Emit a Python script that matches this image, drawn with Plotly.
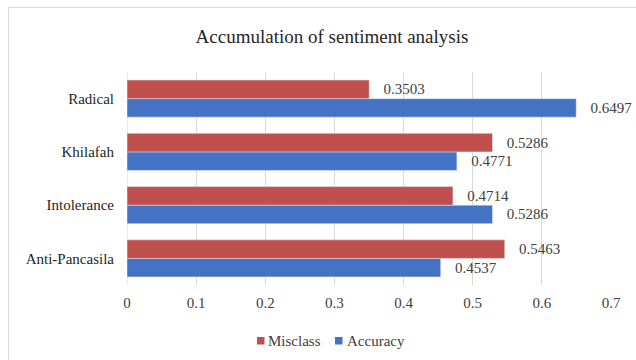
import plotly.graph_objects as go

categories = ["Anti-Pancasila", "Intolerance", "Khilafah", "Radical"]
accuracy = [0.4537, 0.5286, 0.4771, 0.6497]
misclass = [0.5463, 0.4714, 0.5286, 0.3503]
x_ticks = [0, 0.1, 0.2, 0.3, 0.4, 0.5, 0.6, 0.7]
x_tick_labels = ["0", "0.1", "0.2", "0.3", "0.4", "0.5", "0.6", "0.7"]
series_names = ["Misclass", "Accuracy"]
series_colors = ["#C0504D", "#4472C4"]

FONT = "'Liberation Serif', 'Times New Roman', 'DejaVu Serif', serif"
TXT = "#404040"
PAD = "\u00a0\u00a0\u00a0"

W, H = 636, 360
L, R, T, B = 127, 25, 72, 75
PW, PH = W - L - R, H - T - B


def px(fx):
    return (fx - L) / PW


def py(fy):
    return (H - B - fy) / PH


fig = go.Figure()
fig.add_trace(go.Bar(
    y=categories, x=accuracy, name="Accuracy", orientation="h",
    marker=dict(color=series_colors[1]),
    text=[f"{PAD}{v:.4f}" for v in accuracy], textposition="outside",
    textfont=dict(family=FONT, size=15, color=TXT),
    cliponaxis=False,
))
fig.add_trace(go.Bar(
    y=categories, x=misclass, name="Misclass", orientation="h",
    marker=dict(color=series_colors[0]),
    text=[f"{PAD}{v:.4f}" for v in misclass], textposition="outside",
    textfont=dict(family=FONT, size=15, color=TXT),
    cliponaxis=False,
))

fig.update_layout(
    width=W, height=H,
    margin=dict(l=L, r=R, t=T, b=B, autoexpand=False),
    paper_bgcolor="white", plot_bgcolor="white",
    barmode="group", bargap=0.305, bargroupgap=0,
    font=dict(family=FONT, color=TXT),
    title=dict(text="Accumulation of sentiment analysis", x=px(332), xref="paper",
               y=1 - 36 / H, yanchor="middle", xanchor="center",
               font=dict(family=FONT, size=19, color="#262626")),
    xaxis=dict(range=[0, 0.7], tickvals=x_ticks, ticktext=x_tick_labels,
               showgrid=True, gridcolor="#D9D9D9", gridwidth=1,
               zeroline=False, showline=False, ticks="", automargin=False,
               tickfont=dict(family=FONT, size=15, color=TXT),
               ticklabelstandoff=7),
    yaxis=dict(range=[-0.5, 3.5], showgrid=False, zeroline=False,
               showline=False, ticks="", automargin=False,
               tickfont=dict(family=FONT, size=15, color="#262626"),
               ticklabelstandoff=12),
    showlegend=False,
)

# axis line at zero
fig.add_shape(type="line", xref="x", yref="paper", x0=0, x1=0, y0=0, y1=1,
              line=dict(color="#D9D9D9", width=1), layer="below")
# chart border
fig.add_shape(type="rect", xref="paper", yref="paper",
              x0=px(8.5), x1=3.0, y0=-3.0, y1=py(7.5),
              line=dict(color="#D9D9D9", width=1), fillcolor="rgba(0,0,0,0)")

# legend (squares + text)
legend_sq_x = [257, 335]
legend_txt_x = [267, 346]
for name, color, sx, tx in zip(series_names, series_colors, legend_sq_x, legend_txt_x):
    fig.add_shape(type="rect", xref="paper", yref="paper",
                  x0=px(sx), x1=px(sx + 7.5), y0=py(344.5), y1=py(337),
                  line=dict(width=0), fillcolor=color)
    fig.add_annotation(text=name, xref="paper", yref="paper",
                       x=px(tx), y=py(340.5), xanchor="left", yanchor="middle",
                       showarrow=False, borderpad=0,
                       font=dict(family=FONT, size=15, color=TXT))

fig.write_html(
    "out.html",
    config={"displayModeBar": False},
    post_script="document.body.style.margin='0';document.body.style.overflow='hidden';",
)
